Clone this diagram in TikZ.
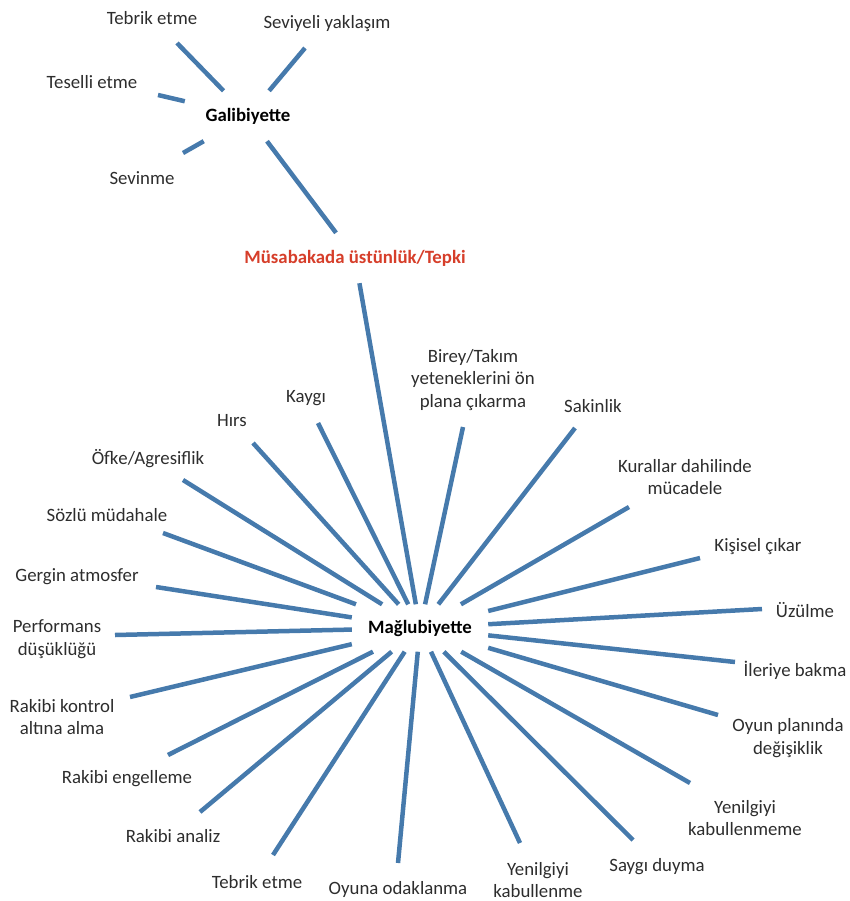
\documentclass[tikz,border=0pt]{standalone}
\usepackage{fontspec}
\setmainfont{Carlito}
\usepackage{xcolor}
\usepackage{tikz}
\definecolor{spokeblue}{RGB}{70,122,172}
\definecolor{titlered}{RGB}{214,62,42}
\definecolor{textgray}{RGB}{45,45,45}
\tikzstyle{leaf} = [text=textgray, align=center, inner sep=0pt, font=\fontsize{18.8}{22.5}\selectfont]
\tikzstyle{hub} = [text=black, inner sep=0pt, font=\fontsize{18.8}{22.5}\selectfont\bfseries]
\tikzstyle{spoke} = [line width=4.5pt, draw=spokeblue]

\begin{document}
\begin{tikzpicture}[x=1pt, y=-1pt]
        \useasboundingbox (0,0) rectangle (850,901);

        % centres
        \node (gal) [hub, minimum width=126pt, minimum height=50pt] at (248,116) {Galibiyette};
        \node (mus) [hub, text=titlered, minimum width=260pt, minimum height=50pt] at (355,258) {Müsabakada üstünlük/Tepki};
        \node (mag) [hub, minimum width=136pt, minimum height=47pt] at (420,628) {Mağlubiyette};

        % galibiyette
        \node (g1) [leaf] at (152,18) {Tebrik etme};
        \node (g2) [leaf] at (327,24) {Seviyeli yaklaşım};
        \node (g3) [leaf] at (92,82) {Teselli etme};
        \node (g4) [leaf] at (142,178) {Sevinme};
        \coordinate (ge1) at (177,43);
        \coordinate (ge2) at (305,48);
        \coordinate (ge3) at (158,95);
        \coordinate (ge4) at (183,153);

        % maglubiyette
        \node (m1) [leaf] at (306,398) {Kaygı};
        \node (m2) [leaf] at (232,421) {Hırs};
        \node (m3) [leaf] at (148,459) {Öfke/Agresiflik};
        \node (m4) [leaf] at (107,515) {Sözlü müdahale};
        \node (m5) [leaf] at (77,577) {Gergin atmosfer};
        \node (m6) [leaf] at (57,639) {Performans\\düşüklüğü};
        \node (m7) [leaf] at (62,717) {Rakibi kontrol\\altına alma};
        \node (m8) [leaf] at (127,779) {Rakibi engelleme};
        \node (m9) [leaf] at (173,836) {Rakibi analiz};
        \node (m10) [leaf] at (257,882) {Tebrik etme};
        \node (m11) [leaf] at (398,889) {Oyuna odaklanma};
        \node (m12) [leaf] at (538,880) {Yenilgiyi\\kabullenme};
        \node (m13) [leaf] at (657,867) {Saygı duyma};
        \node (m14) [leaf] at (745,818) {Yenilgiyi\\kabullenmeme};
        \node (m15) [leaf] at (788,738) {Oyun planında\\değişiklik};
        \node (m16) [leaf] at (795,670) {İleriye bakma};
        \node (m17) [leaf] at (805,610) {Üzülme};
        \node (m18) [leaf] at (758,547) {Kişisel çıkar};
        \node (m19) [leaf] at (685,477) {Kurallar dahilinde\\mücadele};
        \node (m20) [leaf] at (593,406) {Sakinlik};
        \node (m21) [leaf] at (473,380) {Birey/Takım\\yeteneklerini ön\\plana çıkarma};
        \coordinate (me1) at (318,423);
        \coordinate (me2) at (253,443);
        \coordinate (me3) at (183,480);
        \coordinate (me4) at (163,533);
        \coordinate (me5) at (156,587);
        \coordinate (me6) at (115,635);
        \coordinate (me7) at (130,697);
        \coordinate (me8) at (168,755);
        \coordinate (me9) at (200,812);
        \coordinate (me10) at (273,855);
        \coordinate (me11) at (398,863);
        \coordinate (me12) at (520,843);
        \coordinate (me13) at (633,840);
        \coordinate (me14) at (690,783);
        \coordinate (me15) at (718,715);
        \coordinate (me16) at (735,662);
        \coordinate (me17) at (762,609);
        \coordinate (me18) at (700,558);
        \coordinate (me19) at (629,507);
        \coordinate (me20) at (575,428);
        \coordinate (me21) at (463,427);

        \draw [spoke] (gal) -- (mus);
        \draw [spoke] (mus) -- (mag);
        \draw [spoke] (ge1) -- (gal);
        \draw [spoke] (ge2) -- (gal);
        \draw [spoke] (ge3) -- (gal);
        \draw [spoke] (ge4) -- (gal);

        \draw [spoke] (me1) -- (mag);
        \draw [spoke] (me2) -- (mag);
        \draw [spoke] (me3) -- (mag);
        \draw [spoke] (me4) -- (mag);
        \draw [spoke] (me5) -- (mag);
        \draw [spoke] (me6) -- (mag);
        \draw [spoke] (me7) -- (mag);
        \draw [spoke] (me8) -- (mag);
        \draw [spoke] (me9) -- (mag);
        \draw [spoke] (me10) -- (mag);
        \draw [spoke] (me11) -- (mag);
        \draw [spoke] (me12) -- (mag);
        \draw [spoke] (me13) -- (mag);
        \draw [spoke] (me14) -- (mag);
        \draw [spoke] (me15) -- (mag);
        \draw [spoke] (me16) -- (mag);
        \draw [spoke] (me17) -- (mag);
        \draw [spoke] (me18) -- (mag);
        \draw [spoke] (me19) -- (mag);
        \draw [spoke] (me20) -- (mag);
        \draw [spoke] (me21) -- (mag);
    \end{tikzpicture}
\end{document}
